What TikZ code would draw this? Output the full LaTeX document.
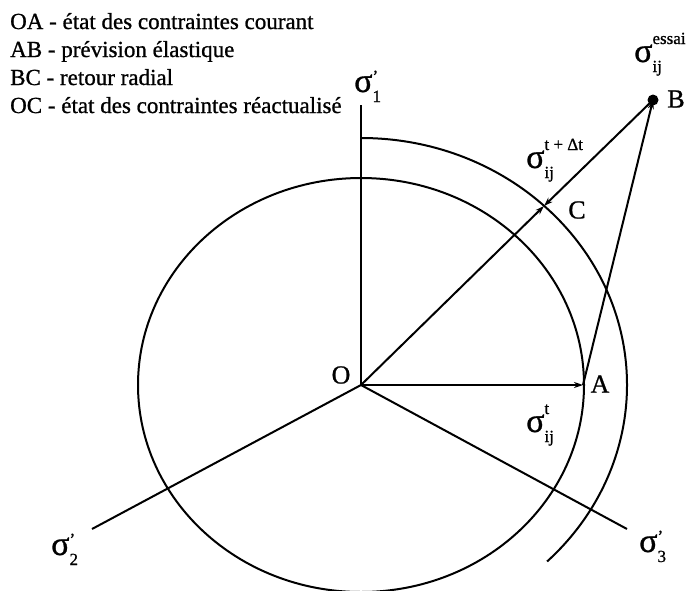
\documentclass[tikz,border=0pt]{standalone}
\usepackage{fontspec}
\setmainfont{Liberation Serif}[FakeBold=0.9]
\usetikzlibrary{arrows.meta}
\newcommand{\subf}{\fontsize{17}{17}\selectfont}
\newcommand{\sgm}[2]{σ\rlap{\raisebox{18pt}{\subf #2}}\raisebox{-10pt}{\subf #1}}
\newcommand{\sgp}[1]{σ\rlap{\raisebox{10pt}{\subf ’}}\raisebox{-10pt}{\subf #1}}
\begin{document}
\begin{tikzpicture}[x=1pt,y=-1pt,
  ln/.style={line width=2pt},
  arr/.style={ln,-{Stealth[length=9pt,width=6pt]}},
  lbl/.style={inner sep=0pt,font=\fontsize{26}{26}\selectfont},
  sig/.style={inner sep=0pt,anchor=base west,font=\fontsize{34}{34}\selectfont},
  legend/.style={inner sep=0pt,anchor=base west,font=\fontsize{23}{23}\selectfont}]
\useasboundingbox (0,0) rectangle (687,590);
% points
\coordinate (O) at (361,385);
\coordinate (A) at (583,385);
\coordinate (B) at (653,100);
\coordinate (C) at (544,206);
\coordinate (S1) at (361,105);
\coordinate (S2) at (92,529);
\coordinate (S3) at (627,529);
\coordinate (T) at (361,138);
% surfaces
\draw[ln] (O) ellipse [x radius=223pt, y radius=207pt];
\draw[ln] (T) arc[start angle=90,end angle=-45.6,x radius=266pt,y radius=247pt];
% axes
\draw[ln] (S1) -- (O);
\draw[ln] (O) -- (S2);
\draw[ln] (O) -- (S3);
% vectors
\draw[arr] (O) -- (A);
\draw[arr] (A) -- (B);
\draw[arr] (O) -- (C);
\draw[arr] (B) -- (C);
\fill (B) circle (5.5pt);
% point labels
\node[lbl] (lO) at (341,375) {O};
\node[lbl] (lA) at (600,384) {A};
\node[lbl] (lB) at (676,99) {B};
\node[lbl] (lC) at (577,210) {C};
% stress labels
\node[sig] (sE) at (634,62) {\sgm{ij}{essai}};
\node[sig] (sTD) at (526,168) {\sgm{ij}{t + Δt}};
\node[sig] (sT) at (526,432) {\sgm{ij}{t}};
\node[sig] (s1) at (354,92) {\sgp{1}};
\node[sig] (s2) at (51,555) {\sgp{2}};
\node[sig] (s3) at (639,552) {\sgp{3}};
% legend
\node[legend] (L1) at (10,29) {OA - état des contraintes courant};
\node[legend] (L2) at (10,57) {AB - prévision élastique};
\node[legend] (L3) at (10,85) {BC - retour radial};
\node[legend] (L4) at (10,113) {OC - état des contraintes réactualisé};
\end{tikzpicture}
\end{document}
